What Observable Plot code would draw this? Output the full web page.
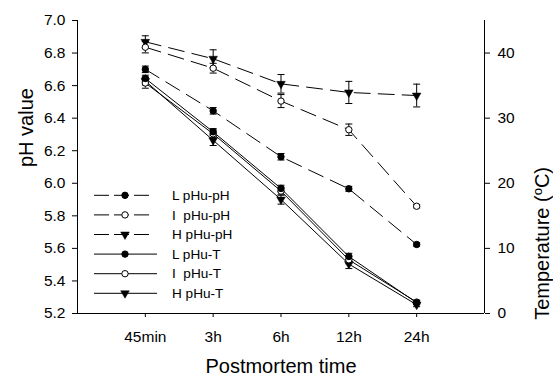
<!DOCTYPE html>
<html><head><meta charset="utf-8">
<script src="https://cdn.jsdelivr.net/npm/d3@7"></script>
<script src="https://cdn.jsdelivr.net/npm/@observablehq/plot@0.6"></script>
<style>html,body{margin:0;padding:0;background:#fff;}</style>
</head><body><div id="chart"></div>
<script>
// ---- data ----
const times = ["45min", "3h", "6h", "12h", "24h"];
const L_pH = [6.70, 6.445, 6.163, 5.966, 5.624];
const I_pH = [6.836, 6.707, 6.505, 6.329, 5.859];
const H_pH = [6.869, 6.765, 6.611, 6.558, 6.539];
const L_pH_se = [0.02, 0.02, 0.02, 0.015, 0.01];
const I_pH_se = [0.035, 0.03, 0.04, 0.035, 0.01];
const H_pH_se = [0.037, 0.055, 0.057, 0.068, 0.07];
const L_T = [36.1, 27.9, 19.2, 8.75, 1.65];
const I_T = [35.4, 27.6, 18.8, 8.25, 1.75];
const H_T = [35.7, 26.6, 17.5, 7.6, 1.35];
const L_T_se = [0.5, 0.5, 0.5, 0.5, 0.3];
const I_T_se = [0.8, 0.6, 0.6, 0.6, 0.3];
const H_T_se = [0.6, 0.8, 0.7, 0.7, 0.3];
const pHTicks = [5.2, 5.4, 5.6, 5.8, 6.0, 6.2, 6.4, 6.6, 6.8, 7.0];
const tempTicks = [0, 10, 20, 30, 40];
const pHDomain = [5.2, 7.0];
const tempDomain = [0, 45];
const legendLabels = ["L pHu-pH", "I\u00a0\u00a0pHu-pH", "H pHu-pH", "L pHu-T", "I\u00a0\u00a0pHu-T", "H pHu-T"];

// temperature -> pH-axis coordinate (shared y scale)
const t2y = t => pHDomain[0] + (t - tempDomain[0]) * (pHDomain[1] - pHDomain[0]) / (tempDomain[1] - tempDomain[0]);
const y2t = y => tempDomain[0] + (y - pHDomain[0]) * (tempDomain[1] - tempDomain[0]) / (pHDomain[1] - pHDomain[0]);

const series = [
  {name: legendLabels[0], v: L_pH, se: L_pH_se, kind: "pH", sym: "filled"},
  {name: legendLabels[1], v: I_pH, se: I_pH_se, kind: "pH", sym: "open"},
  {name: legendLabels[2], v: H_pH, se: H_pH_se, kind: "pH", sym: "tri"},
  {name: legendLabels[3], v: L_T, se: L_T_se, kind: "T", sym: "filled"},
  {name: legendLabels[4], v: I_T, se: I_T_se, kind: "T", sym: "open"},
  {name: legendLabels[5], v: H_T, se: H_T_se, kind: "T", sym: "tri"}
];
const rows = [];
for (const s of series) {
  s.v.forEach((v, i) => {
    const f = s.kind === "pH" ? (d => d) : t2y;
    rows.push({series: s.name, kind: s.kind, sym: s.sym, i, y: f(v), lo: f(v - s.se[i]), hi: f(v + s.se[i])});
  });
}
const capSymbol = {draw(ctx, size) { const w = Math.sqrt(size / Math.PI); ctx.moveTo(-w, 0); ctx.lineTo(w, 0); }};
const DASH = "16,8";
const font = "'Liberation Sans', Arial, Helvetica, sans-serif";

const plot = Plot.plot({
  width: 553, height: 376,
  marginLeft: 77, marginRight: 69, marginTop: 20, marginBottom: 63,
  style: {fontFamily: font, fontSize: "15.5px", color: "black", background: "white"},
  x: {domain: [-1, times.length], label: null},
  y: {domain: pHDomain, label: null},
  marks: [
    Plot.ruleX([-1], {stroke: "black", strokeWidth: 1}),
    Plot.ruleX([times.length], {stroke: "black", strokeWidth: 1}),
    Plot.ruleY([pHDomain[0]], {stroke: "black", strokeWidth: 1}),
    Plot.axisY(pHTicks, {anchor: "left", tickSize: 5, tickPadding: 7, tickFormat: d3.format(".1f"), label: null, stroke: "black", fill: "black"}),
    Plot.axisY(tempTicks.map(t2y), {anchor: "right", tickSize: 5, tickPadding: 8, tickFormat: d => String(Math.round(y2t(d))), label: null, stroke: "black", fill: "black"}),
    Plot.axisX(d3.range(times.length), {anchor: "bottom", tickSize: 4, tickPadding: 13, tickFormat: i => times[i], label: null, stroke: "black", fill: "black"}),
    Plot.line(rows.filter(d => d.kind === "pH"), {x: "i", y: "y", z: "series", stroke: "black", strokeWidth: 1, strokeDasharray: DASH}),
    Plot.line(rows.filter(d => d.kind === "T"), {x: "i", y: "y", z: "series", stroke: "black", strokeWidth: 1}),
    Plot.ruleX(rows, {x: "i", y1: "lo", y2: "hi", stroke: "black", strokeWidth: 1}),
    Plot.dot(rows, {x: "i", y: "lo", symbol: capSymbol, r: 3.5, stroke: "black", strokeWidth: 1}),
    Plot.dot(rows, {x: "i", y: "hi", symbol: capSymbol, r: 3.5, stroke: "black", strokeWidth: 1}),
    Plot.dot(rows.filter(d => d.sym === "tri"), {x: "i", y: "y", symbol: "triangle", rotate: 180, r: 3.2, fill: "black", stroke: "black", strokeWidth: 0.5}),
    Plot.dot(rows.filter(d => d.sym === "open"), {x: "i", y: "y", symbol: "circle", r: 3.2, fill: "white", stroke: "black", strokeWidth: 1}),
    Plot.dot(rows.filter(d => d.sym === "filled"), {x: "i", y: "y", symbol: "circle", r: 3.2, fill: "black", stroke: "black", strokeWidth: 1}),
    Plot.text(["Postmortem time"], {text: d => d, frameAnchor: "bottom", lineAnchor: "bottom", dy: 59, fontSize: 20, fill: "black"}),
    Plot.text(["pH value"], {text: d => d, frameAnchor: "left", rotate: -90, lineAnchor: "bottom", dx: -45, fontSize: 20, fill: "black"}),
    Plot.text(["Temperature (oC)"], {text: d => d, frameAnchor: "right", rotate: -90, lineAnchor: "bottom", dx: 64, fontSize: 20, fill: "black"})
  ]
});
document.getElementById("chart").appendChild(plot);

// superscript o in the temperature label
const ns = "http://www.w3.org/2000/svg";
plot.querySelectorAll("text").forEach(t => {
  if (t.textContent === "Temperature (oC)") {
    t.textContent = "Temperature (";
    const s = document.createElementNS(ns, "tspan");
    s.setAttribute("font-size", "13px"); s.setAttribute("dy", "-7"); s.textContent = "o";
    const c = document.createElementNS(ns, "tspan");
    c.setAttribute("dy", "7"); c.textContent = "C)";
    t.appendChild(s); t.appendChild(c);
  }
});

// legend (inside the plot area, left)
const svg = d3.select(plot);
const lg = svg.append("g").attr("font-family", font).attr("font-size", "13.6px").attr("text-anchor", "start");
series.forEach((s, k) => {
  const y = 195.3 + k * 19.6;
  const dashed = s.kind === "pH";
  lg.append("line").attr("x1", 94).attr("x2", dashed ? 150 : 157).attr("y1", y).attr("y2", y)
    .attr("stroke", "black").attr("stroke-width", 1).attr("stroke-dasharray", dashed ? "15,5" : null);
  const sym = s.sym === "tri" ? d3.symbolTriangle : d3.symbolCircle;
  lg.append("path").attr("d", d3.symbol(sym, Math.PI * 3.2 * 3.2)())
    .attr("transform", `translate(125,${y})` + (s.sym === "tri" ? " rotate(180)" : ""))
    .attr("fill", s.sym === "open" ? "white" : "black").attr("stroke", "black").attr("stroke-width", s.sym === "tri" ? 0.5 : 1);
  lg.append("text").attr("x", 172).attr("y", y).attr("dy", "0.35em").attr("fill", "black").text(s.name);
});
</script>
</body></html>
